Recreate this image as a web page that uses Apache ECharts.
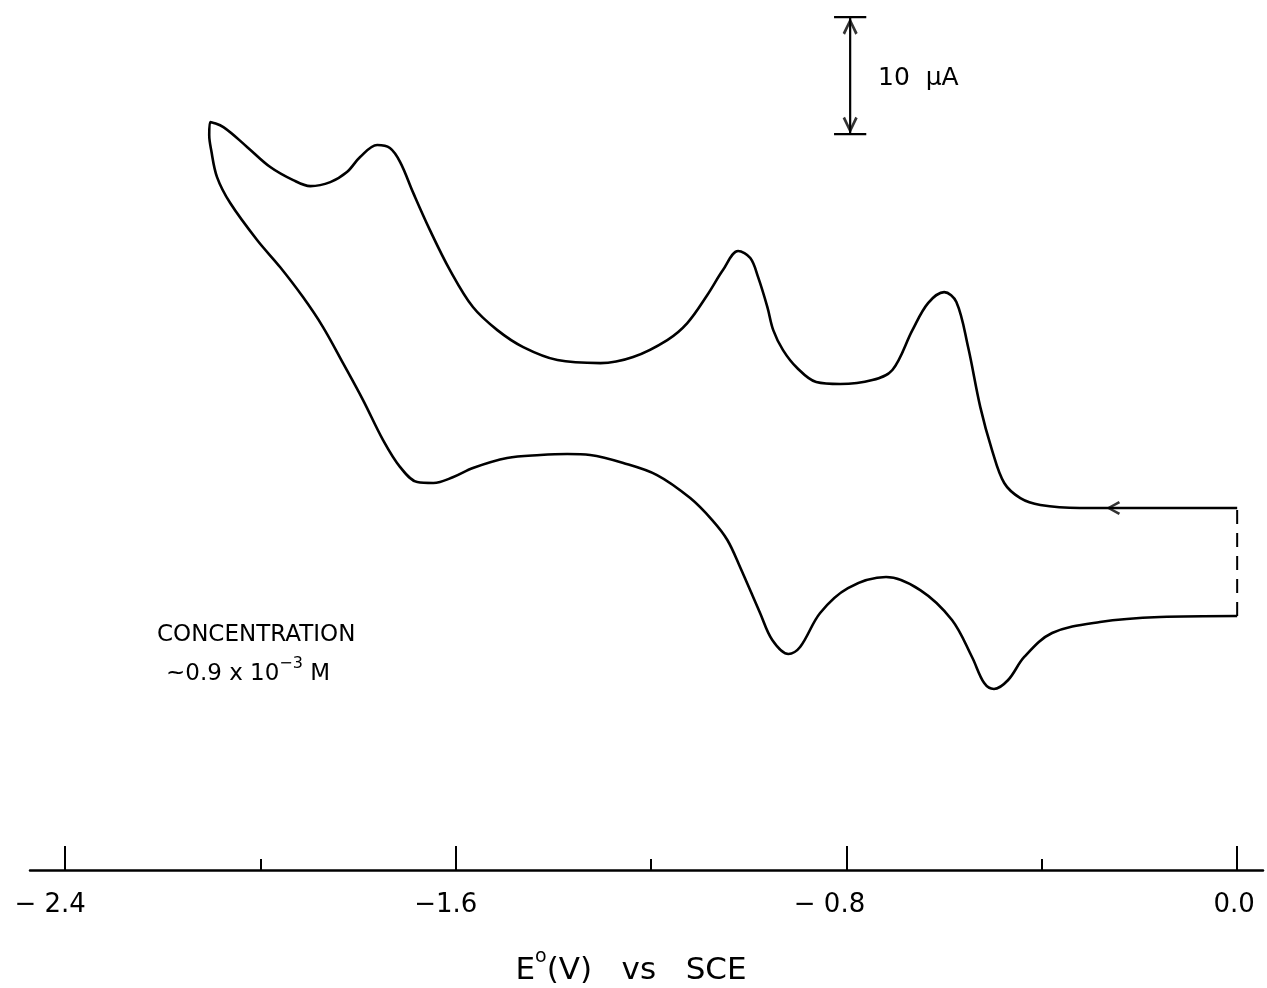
<!DOCTYPE html>
<html>
<head>
<meta charset="utf-8">
<script src="https://cdn.jsdelivr.net/npm/echarts@6/dist/echarts.min.js"></script>
<style>
  html, body { margin: 0; background: #fff; }
  #cv { width: 1267px; height: 988px; }
</style>
</head>
<body>
<div id="cv"></div>
<script>
// scan starts at 0.0 V, goes negative along the upper branch, comes back on the lower one
var scanPotential = [
  0.000, -0.158, -0.322, -0.403, -0.444, -0.477, -0.502, -0.526, -0.551, -0.575,
  -0.600, -0.633, -0.665, -0.706, -0.747, -0.813, -0.862, -0.901, -0.930, -0.950,
  -0.962, -0.981, -0.997, -1.022, -1.053, -1.085, -1.126, -1.167, -1.237, -1.304,
  -1.392, -1.462, -1.515, -1.565, -1.612, -1.653, -1.687, -1.714, -1.735, -1.761,
  -1.796, -1.823, -1.857, -1.898, -1.933, -1.980, -2.027, -2.076, -2.103,
  -2.105, -2.101, -2.089, -2.062, -2.007, -1.960, -1.913, -1.872, -1.831, -1.790,
  -1.749, -1.714, -1.679, -1.646, -1.605, -1.565, -1.495, -1.427, -1.372, -1.325,
  -1.257, -1.188, -1.120, -1.075, -1.044, -1.018, -0.977, -0.952, -0.919, -0.895,
  -0.854, -0.797, -0.719, -0.649, -0.584, -0.543, -0.518, -0.498, -0.469, -0.436,
  -0.379, -0.281, -0.158, 0.000
];
var scanCurrent = [
  30.94, 30.94, 30.94, 31.20, 31.79, 33.08, 35.90, 39.57, 44.70, 48.55,
  49.40, 48.46, 46.15, 42.74, 41.88, 41.54, 41.71, 42.91, 44.44, 46.15,
  48.12, 50.68, 52.31, 52.91, 51.28, 49.15, 46.75, 45.30, 43.85, 43.33,
  43.59, 44.70, 46.15, 48.12, 51.28, 54.70, 57.86, 60.51, 61.71, 61.97,
  60.94, 59.66, 58.80, 58.46, 58.97, 60.09, 61.79, 63.50, 63.93,
  62.82, 61.54, 59.23, 57.01, 53.85, 51.54, 48.97, 46.41, 43.33, 40.17,
  36.75, 34.44, 33.16, 33.08, 33.59, 34.36, 35.21, 35.47, 35.56, 35.47,
  34.79, 33.76, 31.79, 29.91, 28.21, 25.90, 21.97, 19.66, 18.46, 19.06,
  21.97, 24.10, 25.04, 23.93, 21.37, 18.21, 15.98, 15.47, 16.24, 18.21,
  20.26, 21.20, 21.62, 21.71
];
var gapPotential = [0.000, 0.000];
var gapCurrent = [21.71, 30.94];
var arrowPotential = -0.254;
var arrowCurrent = 30.94;

var majorTicks = [-2.4, -1.6, -0.8, 0.0];
var tickLabels = ['\u2212 2.4', '\u22121.6', '\u2212 0.8', '0.0'];
var minorTicks = [-2.0, -1.2, -0.4];

var barPotential = -0.7925;
var barCurrent = [62.9, 72.9];
var barLabel = '10  \u00b5A';

var chevron = 'path://M0,0 L-7,13 L-4.8,14.4 L0,5 L4.8,14.4 L7,13 Z';
var font = 'DejaVu Sans';

var scan = scanPotential.map(function (v, i) { return [v, scanCurrent[i]]; });
var gap = gapPotential.map(function (v, i) { return [v, gapCurrent[i]]; });
var capHalf = 0.033;
var labelStyles = ['a', 'b', 'c', 'd'];

var chart = echarts.init(document.getElementById('cv'));
chart.setOption({
  backgroundColor: '#fff',
  animation: false,
  grid: { left: 30, right: 4, top: 16, bottom: 118 },
  xAxis: [{
    type: 'value', min: -2.472, max: 0.0529, position: 'bottom',
    axisLine: { onZero: false, lineStyle: { color: '#000', width: 2.5 } },
    axisTick: { inside: true, length: 24, customValues: majorTicks, lineStyle: { color: '#000', width: 2 } },
    axisLabel: {
      customValues: majorTicks, margin: 22, color: '#000', fontSize: 26, fontFamily: font,
      formatter: function (v) {
        var i = majorTicks.indexOf(Math.round(v * 10) / 10);
        return '{' + labelStyles[i] + '|' + tickLabels[i] + '}';
      },
      rich: {
        a: { fontSize: 26, fontFamily: font, color: '#000', padding: [0, 30, 0, 0] },
        b: { fontSize: 26, fontFamily: font, color: '#000', padding: [0, 20, 0, 0] },
        c: { fontSize: 26, fontFamily: font, color: '#000', padding: [0, 34, 0, 0] },
        d: { fontSize: 26, fontFamily: font, color: '#000', padding: [0, 6, 0, 0] }
      }
    },
    splitLine: { show: false }
  }, {
    type: 'value', min: -2.472, max: 0.0529, position: 'bottom',
    axisLine: { show: false },
    axisTick: { inside: true, length: 11, customValues: minorTicks, lineStyle: { color: '#000', width: 2 } },
    axisLabel: { show: false },
    splitLine: { show: false }
  }],
  yAxis: { type: 'value', min: 0, max: 73, show: false },
  series: [
    { type: 'line', data: scan, smooth: 0.35, symbol: 'none',
      lineStyle: { color: '#000', width: 2.6 } },
    { type: 'line', data: gap, symbol: 'none',
      lineStyle: { color: '#000', width: 2, type: [14, 9] } },
    { type: 'scatter', data: [[arrowPotential, arrowCurrent]], symbol: chevron,
      symbolSize: [14, 14], symbolRotate: 90, itemStyle: { color: '#000' } },
    { type: 'line', data: [[barPotential, barCurrent[0]], [barPotential, barCurrent[1]]], symbol: 'none',
      lineStyle: { color: '#000', width: 2.2 } },
    { type: 'line', data: [[barPotential - capHalf, barCurrent[1]], [barPotential + capHalf, barCurrent[1]]], symbol: 'none',
      lineStyle: { color: '#000', width: 2.2 } },
    { type: 'line', data: [[barPotential - capHalf, barCurrent[0]], [barPotential + capHalf, barCurrent[0]]], symbol: 'none',
      lineStyle: { color: '#000', width: 2.2 } },
    { type: 'scatter', data: [[barPotential, barCurrent[1]]], symbol: chevron,
      symbolSize: [15, 17], symbolOffset: [0, 9], itemStyle: { color: '#000' } },
    { type: 'scatter', data: [[barPotential, barCurrent[0]]], symbol: chevron,
      symbolSize: [15, 17], symbolRotate: 180, symbolOffset: [0, -9], itemStyle: { color: '#000' } }
  ],
  graphic: [
    { type: 'text', style: { x: 878, y: 78, text: barLabel, font: '25px ' + font, fill: '#000', verticalAlign: 'middle' } },
    { type: 'text', style: { x: 157, y: 635, text: 'CONCENTRATION', font: '23px ' + font, fill: '#000', verticalAlign: 'middle' } },
    { type: 'text', style: {
        x: 166, y: 656, text: '{n|~0.9 x 10}{s|\u22123}{n| M}', fill: '#000',
        rich: {
          n: { fontSize: 23, fontFamily: font, lineHeight: 30, verticalAlign: 'bottom' },
          s: { fontSize: 16, fontFamily: font, lineHeight: 30, verticalAlign: 'top' }
        }
    } },
    { type: 'text', style: {
        x: 631, y: 948, align: 'center', text: '{n|E}{s|o}{n|(V)   vs   SCE}', fill: '#000',
        rich: {
          n: { fontSize: 31, fontFamily: font, lineHeight: 38, verticalAlign: 'bottom' },
          s: { fontSize: 19, fontFamily: font, lineHeight: 38, verticalAlign: 'top' }
        }
    } }
  ]
});
</script>
</body>
</html>
